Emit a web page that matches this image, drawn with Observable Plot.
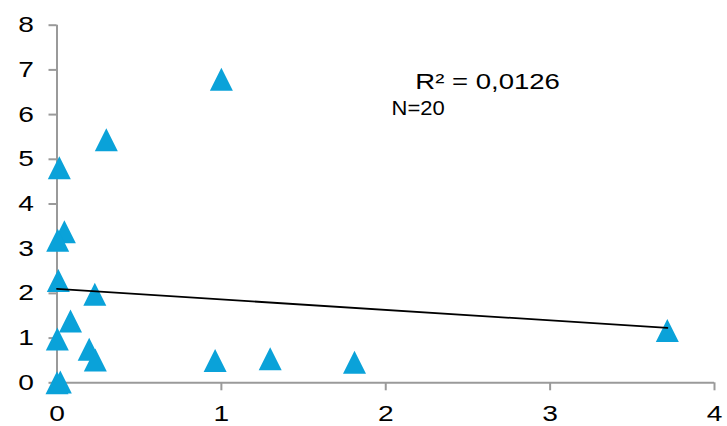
<!DOCTYPE html>
<html>
<head>
<meta charset="utf-8">
<script src="https://cdn.jsdelivr.net/npm/d3@7"></script>
<script src="https://cdn.jsdelivr.net/npm/@observablehq/plot@0.6"></script>
<style>
  html, body { margin: 0; padding: 0; background: #fff; }
</style>
</head>
<body>
<div id="chart"></div>
<script>
// Observations (x, y)
const xValues = [1.0, 0.30, 0.014, 0.045, 0.004, 0.008, 0.23, 0.082, 0.002, 0.196, 0.233, 0.0, 0.02, 0.962, 1.297, 1.81, 3.713];
const yValues = [6.79, 5.44, 4.81, 3.38, 3.19, 2.29, 1.98, 1.38, 0.98, 0.75, 0.51, 0.0, 0.02, 0.50, 0.54, 0.46, 1.17];

// Linear trend line endpoints
const trendX = [0, 3.713];
const trendY = [2.10, 1.23];

// Axis ticks
const xTicks = [0, 1, 2, 3, 4];
const yTicks = [0, 1, 2, 3, 4, 5, 6, 7, 8];

// Annotations
const fitLabel = "R² = 0,0126";
const countLabel = "N=20";

const points = xValues.map((x, i) => ({x, y: yValues[i]}));
const trend = trendX.map((x, i) => ({x, y: trendY[i]}));

// Upward triangle centred on its bounding box
const triangle = {
  draw(context, size) {
    const r = Math.sqrt(size / Math.PI);
    context.moveTo(0, -r);
    context.lineTo(r, r);
    context.lineTo(-r, r);
    context.closePath();
  }
};

const axisGray = "#9a9a9a";

const chart = Plot.plot({
  width: 727,
  height: 426,
  marginLeft: 56.5,
  marginRight: 13,
  marginTop: 24.7,
  marginBottom: 43.7,
  style: {
    fontFamily: "'Liberation Sans', Arial, sans-serif",
    fontSize: "22px",
    background: "#fff",
    color: "#000",
    overflow: "visible"
  },
  x: {domain: [0, 4], label: null},
  y: {domain: [0, 8], label: null},
  marks: [
    Plot.axisX({ticks: xTicks, tickFormat: d => String(d), tickSize: 8, tickPadding: 14.3, stroke: axisGray, strokeWidth: 2, fill: "#000", label: null}),
    Plot.axisY({ticks: yTicks, tickFormat: d => String(d), tickSize: 8, tickPadding: 15, stroke: axisGray, strokeWidth: 2, fill: "#000", label: null}),
    Plot.ruleY([0], {stroke: axisGray, strokeWidth: 2}),
    Plot.ruleX([0], {stroke: axisGray, strokeWidth: 2}),
    Plot.dot(points, {x: "x", y: "y", symbol: triangle, r: 11.5, fill: "#0aa2d9", stroke: "none"}),
    Plot.line(trend, {x: "x", y: "y", stroke: "#000", strokeWidth: 1.8}),
    Plot.text([fitLabel], {x: 2.18, y: 6.91, text: d => d, textAnchor: "start", lineAnchor: "top", fontSize: 21.5, fill: "#000"}),
    Plot.text([countLabel], {x: 2.035, y: 6.315, text: d => d, textAnchor: "start", lineAnchor: "top", fontSize: 20, fill: "#000"})
  ]
});

document.getElementById("chart").append(chart);

// Widen the lettering horizontally about each label's anchor
chart.querySelectorAll("text").forEach(el => {
  const box = el.getBBox();
  const anchor = getComputedStyle(el).textAnchor;
  const ax = anchor === "end" ? box.x + box.width
    : anchor === "middle" ? box.x + box.width / 2
    : box.x;
  const sx = el.textContent === countLabel ? 1.1 : 1.28;
  const t = el.getAttribute("transform") || "";
  el.setAttribute("transform", `${t} translate(${ax},0) scale(${sx},1) translate(${-ax},0)`.trim());
});
</script>
</body>
</html>
